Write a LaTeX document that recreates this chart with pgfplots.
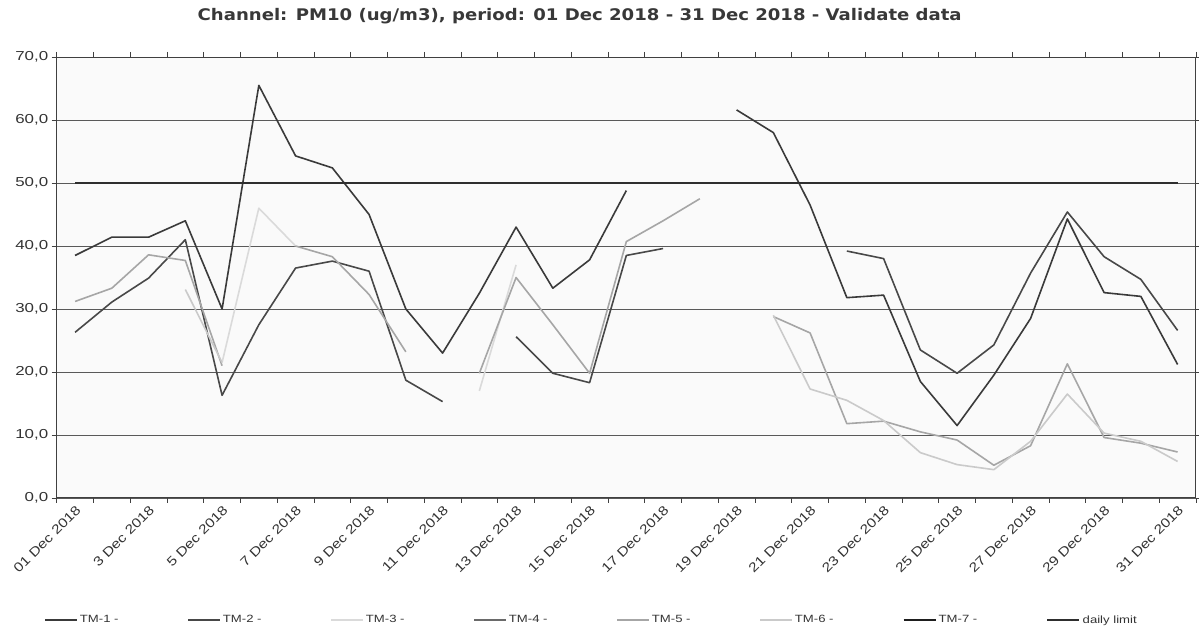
\documentclass[border=0pt]{standalone}
\usepackage{pgfplots}
\pgfplotsset{compat=1.18}
\usepackage{fontspec}
\setmainfont{Liberation Sans}
\newfontfamily\tickfont[FakeStretch=1.3]{Liberation Sans}
\newfontfamily\xtickfont[FakeStretch=1.2]{Liberation Sans}
\newfontfamily\legfont[FakeStretch=1.25]{Liberation Sans}
\newfontfamily\titlefont[FakeStretch=1.13]{DejaVu Sans}
\definecolor{cA}{HTML}{3A3A3A}
\definecolor{cB}{HTML}{484848}
\definecolor{cC}{HTML}{DADADA}
\definecolor{cD}{HTML}{6A6A6A}
\definecolor{cE}{HTML}{A6A6A6}
\definecolor{cF}{HTML}{CACACA}
\definecolor{cG}{HTML}{1E1E1E}
\definecolor{cL}{HTML}{2E2E2E}
\begin{document}
\begin{tikzpicture}
\useasboundingbox (0,0) rectangle (1199pt,634pt);
\begin{axis}[
  at={(56.7pt,136pt)}, anchor=south west,
  width=1139.3pt, height=441pt, scale only axis,
  xmin=0.5, xmax=31.5, ymin=0, ymax=70,
  axis background/.style={fill=black!2},
  axis line style={draw=black!75, line width=1pt},
  ytick={0,10,...,70},
  yticklabels={{0,0},{10,0},{20,0},{30,0},{40,0},{50,0},{60,0},{70,0}},
  ymajorgrids, grid style={draw=black!65, line width=0.9pt},
  y tick label style={font=\tickfont\fontsize{13}{13}\selectfont, text=black!80},
  tick align=outside,
  major tick length=5pt, minor tick length=5pt,
  major y tick style={draw=black!75, line width=0.9pt},
  xtick={1,3,...,31},
  xticklabels={01 Dec 2018, 3 Dec 2018, 5 Dec 2018, 7 Dec 2018, 9 Dec 2018, 11 Dec 2018, 13 Dec 2018, 15 Dec 2018, 17 Dec 2018, 19 Dec 2018, 21 Dec 2018, 23 Dec 2018, 25 Dec 2018, 27 Dec 2018, 29 Dec 2018, 31 Dec 2018},
  major x tick style={draw=none},
  minor xtick={0.5,1.5,...,31.5},
  minor x tick style={draw=black!75, line width=0.9pt},
  x tick label style={rotate=45, anchor=north east, font=\xtickfont\fontsize{13}{13}\selectfont, text=black!80, inner sep=1pt},
  title={Channel: PM10 (ug/m3), period: 01 Dec 2018 - 31 Dec 2018 - Validate data},
  every axis title/.style={at={(0.459,1)}, anchor=base, yshift=36pt, font=\titlefont\bfseries\fontsize{16}{16}\selectfont, text=black!78},
  legend columns=8,
  legend style={at={(0.492,-0.2766)}, anchor=center, draw=none, fill=none, font=\legfont\fontsize{10.5}{10.5}\selectfont, text=black!80, /tikz/every even column/.append style={column sep=0pt}},
  legend cell align=left,
  legend image code/.code={\draw[#1] (0pt,0pt) -- (32pt,0pt);},
  unbounded coords=jump,
  every axis plot/.append style={line width=1.6pt, line join=round, mark=none},
]
% TM-1
\addplot[color=cA] coordinates {(1,38.5) (2,41.4) (3,41.4) (4,44.0) (5,30.0) (6,65.5) (7,54.3) (8,52.4) (9,45.0) (10,30.0) (11,23.0) (12,32.5) (13,43.0) (14,33.3) (15,37.8) (16,48.8) (17,nan) (18,nan) (19,61.6) (20,58.0) (21,46.5) (22,31.8) (23,32.2) (24,18.5) (25,11.5) (26,19.5) (27,28.5) (28,44.3) (29,32.6) (30,32.0) (31,21.2)};
\addlegendentry{\makebox[105.4pt][l]{TM-1 -}}
% TM-2
\addplot[color=cB] coordinates {(1,26.3) (2,31.1) (3,34.9) (4,41.0) (5,16.3) (6,27.5) (7,36.5) (8,37.6) (9,36.0) (10,18.7) (11,15.3) (12,nan) (13,25.6) (14,19.8) (15,18.3) (16,38.5) (17,39.6) (18,nan) (21,nan) (22,39.2) (23,38.0) (24,23.5) (25,19.8) (26,24.3) (27,35.7) (28,45.4) (29,38.3) (30,34.7) (31,26.6)};
\addlegendentry{\makebox[105.4pt][l]{TM-2 -}}
% TM-3
\addplot[color=cC] coordinates {(5,21.5) (6,46.0) (7,40.0) (8,nan) (11,nan) (12,17.0) (13,37.0)};
\addlegendentry{\makebox[105.4pt][l]{TM-3 -}}
% TM-4
\addlegendimage{color=cD, line width=1.6pt}
\addlegendentry{\makebox[105.4pt][l]{TM-4 -}}
% TM-5
\addplot[color=cE] coordinates {(1,31.2) (2,33.3) (3,38.6) (4,37.7) (5,21.0) (6,nan) (7,40.0) (8,38.3) (9,32.3) (10,23.2) (11,nan) (12,19.8) (13,35.0) (14,27.5) (15,19.8) (16,40.7) (17,44.0) (18,47.5) (19,nan) (20,28.8) (21,26.2) (22,11.8) (23,12.2) (24,10.5) (25,9.2) (26,5.2) (27,8.3) (28,21.3) (29,9.6) (30,8.7) (31,7.3)};
\addlegendentry{\makebox[105.4pt][l]{TM-5 -}}
% TM-6
\addplot[color=cF] coordinates {(4,33.1) (5,21.5) (6,nan) (19,nan) (20,29.0) (21,17.3) (22,15.5) (23,12.3) (24,7.2) (25,5.3) (26,4.5) (27,9.0) (28,16.5) (29,10.3) (30,9.0) (31,5.8)};
\addlegendentry{\makebox[105.4pt][l]{TM-6 -}}
% TM-7
\addlegendimage{color=cG, line width=2.4pt}
\addlegendentry{\makebox[105.4pt][l]{TM-7 -}}
% daily limit
\addplot[color=cL, line width=2.6pt] coordinates {(1,50) (31,50)};
\addlegendentry{\makebox[105.4pt][l]{daily limit}}
\end{axis}
\end{tikzpicture}
\end{document}
